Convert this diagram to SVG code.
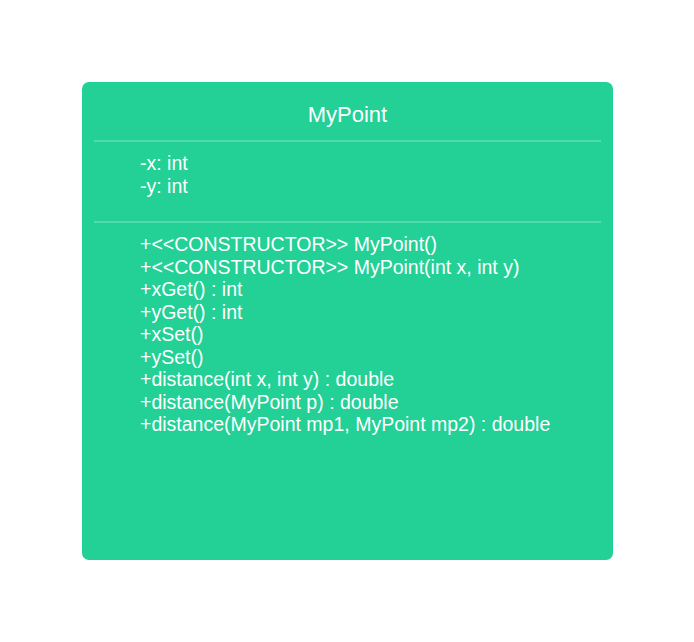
<svg xmlns="http://www.w3.org/2000/svg" width="694" height="642" viewBox="0 0 694 642">
<style>
.t{font-family:"Liberation Sans",Arial,sans-serif;font-size:19.5px;fill:#ffffff}
.h{font-size:22px}
.d{stroke:#4fdca8;stroke-width:2}
</style>
<rect width="694" height="642" fill="#ffffff"/>
<g id="MyPoint">
<rect x="82" y="82" width="531" height="478" rx="7" fill="#23d096"/>
<text class="t h" x="347.5" y="122" text-anchor="middle">MyPoint</text>
<line class="d" x1="94" y1="141" x2="601" y2="141"/>
<text class="t" x="140" y="170">-x: int</text>
<text class="t" x="140" y="193">-y: int</text>
<line class="d" x1="94" y1="222" x2="601" y2="222"/>
<text class="t" x="140" y="251">+&lt;&lt;CONSTRUCTOR&gt;&gt; MyPoint()</text>
<text class="t" x="140" y="273.5">+&lt;&lt;CONSTRUCTOR&gt;&gt; MyPoint(int x, int y)</text>
<text class="t" x="140" y="296">+xGet() : int</text>
<text class="t" x="140" y="318.5">+yGet() : int</text>
<text class="t" x="140" y="341">+xSet()</text>
<text class="t" x="140" y="363.5">+ySet()</text>
<text class="t" x="140" y="386">+distance(int x, int y) : double</text>
<text class="t" x="140" y="408.5">+distance(MyPoint p) : double</text>
<text class="t" x="140" y="431">+distance(MyPoint mp1, MyPoint mp2) : double</text>
</g>
<g id="connectors"/>
</svg>
